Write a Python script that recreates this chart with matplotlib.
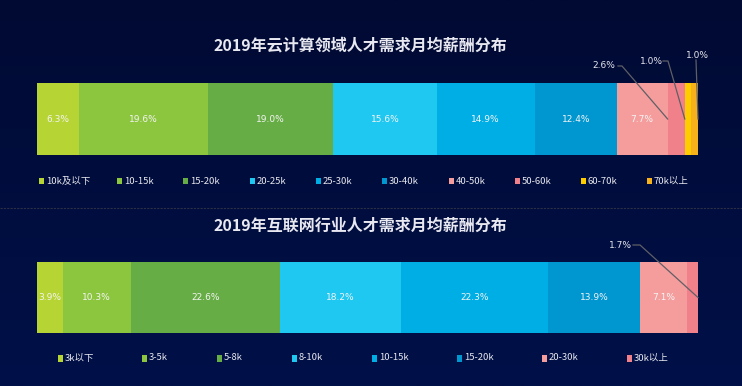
import numpy as np
import matplotlib
matplotlib.use("Agg")
import matplotlib.pyplot as plt
from matplotlib.patches import Rectangle
from matplotlib.lines import Line2D
from matplotlib.colors import LinearSegmentedColormap


# =====================================
# Data
# =====================================

cloud_title = "2019年云计算领域人才需求月均薪酬分布"
cloud_labels = ["10k及以下", "10-15k", "15-20k", "20-25k", "25-30k",
                "30-40k", "40-50k", "50-60k", "60-70k", "70k以上"]
cloud_values = [6.3, 19.6, 19.0, 15.6, 14.9, 12.4, 7.7, 2.6, 1.0, 1.0]

net_title = "2019年互联网行业人才需求月均薪酬分布"
net_labels = ["3k以下", "3-5k", "5-8k", "8-10k", "10-15k",
              "15-20k", "20-30k", "30k以上"]
net_values = [3.9, 10.3, 22.6, 18.2, 22.3, 13.9, 7.1, 1.7]

cloud_colors = ["#b6d433", "#8cc63f", "#66ad45", "#1ec8f1", "#00aee6",
                "#0097d0", "#f59d9d", "#f0818a", "#ffcc00", "#f7b21b"]
net_colors = cloud_colors[:7] + ["#f0818a"]


# =====================================
# Figure
# =====================================

plt.rcParams["font.family"] = ["Noto Sans CJK SC", "DejaVu Sans"]

W, H = 742, 386
fig = plt.figure(figsize=(W / 100, H / 100), dpi=100)

# background gradient
bg = fig.add_axes([0, 0, 1, 1])
cmap = LinearSegmentedColormap.from_list("bg", ["#000a33", "#001048"])
bg.imshow(np.linspace(0, 1, 200).reshape(-1, 1), aspect="auto",
          cmap=cmap, extent=[0, 1, 0, 1])
bg.set_xlim(0, 1)
bg.set_ylim(0, 1)
bg.axis("off")

# dashed separator
bg.plot([0, 1], [1 - 208 / H, 1 - 208 / H], color="#2a2f45",
        linewidth=0.8, linestyle=(0, (2, 1)))


def px_box(x0, y0, x1, y1):
    return [x0 / W, 1 - y1 / H, (x1 - x0) / W, (y1 - y0) / H]


def draw_panel(box, title, title_y, labels, values, colors,
               legend_y, legend_x, callouts):
    ax = fig.add_axes(box)
    total = sum(values)
    left = 0
    for v, c in zip(values, colors):
        ax.barh(0, v, left=left, height=1, color=c, linewidth=0)
        if v >= 3:
            ax.text(left + v / 2, 0, f"{v}%", ha="center", va="center",
                    fontsize=6.5, color="#f4f4f4",
                    family=["DejaVu Sans"])
        left += v
    ax.set_xlim(0, total)
    ax.set_ylim(-0.5, 0.5)
    ax.axis("off")

    # callouts for the small segments
    x0 = box[0] * W
    xw = box[2] * W
    y_top = (1 - box[1] - box[3]) * H
    y_bot = (1 - box[1]) * H
    cum = np.cumsum([0] + values)
    for idx, tx, ty, k0, k1, side in callouts:
        target = cum[idx] if side == "start" else cum[idx + 1]
        tpx = x0 + target / total * xw
        mid_y = (y_top + y_bot) / 2
        ly = ty + 4 if k0 == k1 else ty
        xs = [k0 / W, k1 / W, tpx / W]
        ys = [1 - ly / H, 1 - ly / H, 1 - mid_y / H]
        fig.add_artist(Line2D(xs, ys, color="#5f5f66", linewidth=0.9,
                              transform=fig.transFigure, zorder=5))
        fig.text(tx / W, 1 - ty / H, f"{values[idx]}%", ha="center",
                 va="center", fontsize=6.5, color="#e6e6ee",
                 family=["DejaVu Sans"])

    fig.text(360 / W, 1 - title_y / H, title, ha="center", va="center",
             fontsize=11.5, fontweight="bold", color="#e8e8f0")

    for lab, c, lx in zip(labels, colors, legend_x):
        bg.add_patch(Rectangle((lx / W, 1 - (legend_y + 3.5) / H),
                               5 / W, 7 / H, color=c, linewidth=0))
        fig.text((lx + 7) / W, 1 - legend_y / H, lab, ha="left",
                 va="center", fontsize=6.8, color="#e8e8ee")
    return ax


draw_panel(px_box(37, 83, 698, 155), cloud_title, 45,
           cloud_labels, cloud_values, cloud_colors, 181,
           [39, 117, 183, 250, 316, 382, 449, 515, 581, 647],
           [(7, 604, 66, 618, 622, "start"),
            (8, 651, 61, 663, 668, "start"),
            (9, 697, 56, 696, 696, "end")])

draw_panel(px_box(37, 262, 698, 333), net_title, 226,
           net_labels, net_values, net_colors, 358,
           [58, 142, 217, 292, 372, 457, 542, 627],
           [(7, 620, 245, 633, 640, "end")])


# =====================================
# Save Image
# =====================================

plt.savefig("out.png", dpi=100)
plt.close()
